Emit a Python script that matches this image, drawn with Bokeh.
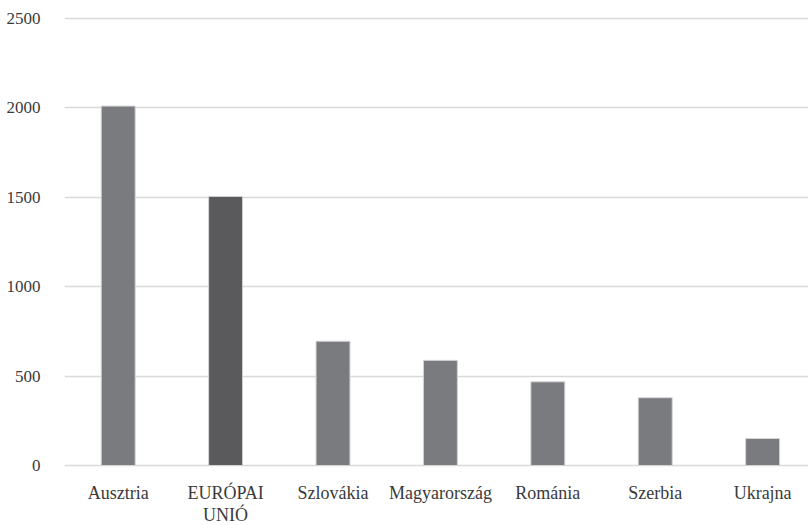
from bokeh.plotting import figure
from bokeh.models import Range1d, FixedTicker, ColumnDataSource
from bokeh.embed import file_html
from bokeh.resources import INLINE

categories = ["Ausztria", "EURÓPAI\nUNIÓ", "Szlovákia", "Magyarország", "Románia", "Szerbia", "Ukrajna"]
values = [2010, 1505, 695, 588, 468, 379, 151]
colors = ["#7a7b7f", "#5a5a5d", "#7a7b7f", "#7a7b7f", "#7a7b7f", "#7a7b7f", "#7a7b7f"]
y_ticks = [0, 500, 1000, 1500, 2000, 2500]

xs = [i + 0.5 for i in range(len(categories))]
src = ColumnDataSource(dict(x=xs, top=values, color=colors))

p = figure(frame_width=744, frame_height=458, output_backend="svg", toolbar_location=None,
           x_range=Range1d(0, 6.927), y_range=Range1d(-16.8, 2544.7),
           min_border_left=64, min_border_right=0, min_border_top=10, min_border_bottom=40)
p.outline_line_color = None
p.background_fill_color = "white"
p.border_fill_color = "white"

p.vbar(x="x", top="top", bottom=0, width=0.316, fill_color="color",
       line_color="#d4d4d6", line_width=1, source=src)

p.xgrid.grid_line_color = None
p.ygrid.grid_line_color = "#d9d9d9"
p.ygrid.grid_line_width = 1.5
p.yaxis.ticker = FixedTicker(ticks=y_ticks)
p.xaxis.ticker = FixedTicker(ticks=xs)
p.xaxis.major_label_overrides = {x: c for x, c in zip(xs, categories)}

for ax in (p.xaxis[0], p.yaxis[0]):
    ax.axis_line_color = None
    ax.major_tick_line_color = None
    ax.minor_tick_line_color = None
    ax.major_label_text_font = "Liberation Serif"
    ax.major_label_text_color = "#3a3a3a"
p.xaxis.major_label_text_font_size = "18px"
p.xaxis.major_label_text_line_height = 1.1
p.yaxis.major_label_text_font_size = "17px"
p.yaxis.major_label_standoff = 18
p.xaxis.major_label_standoff = 8

open("out.html", "w").write(file_html(p, INLINE))
